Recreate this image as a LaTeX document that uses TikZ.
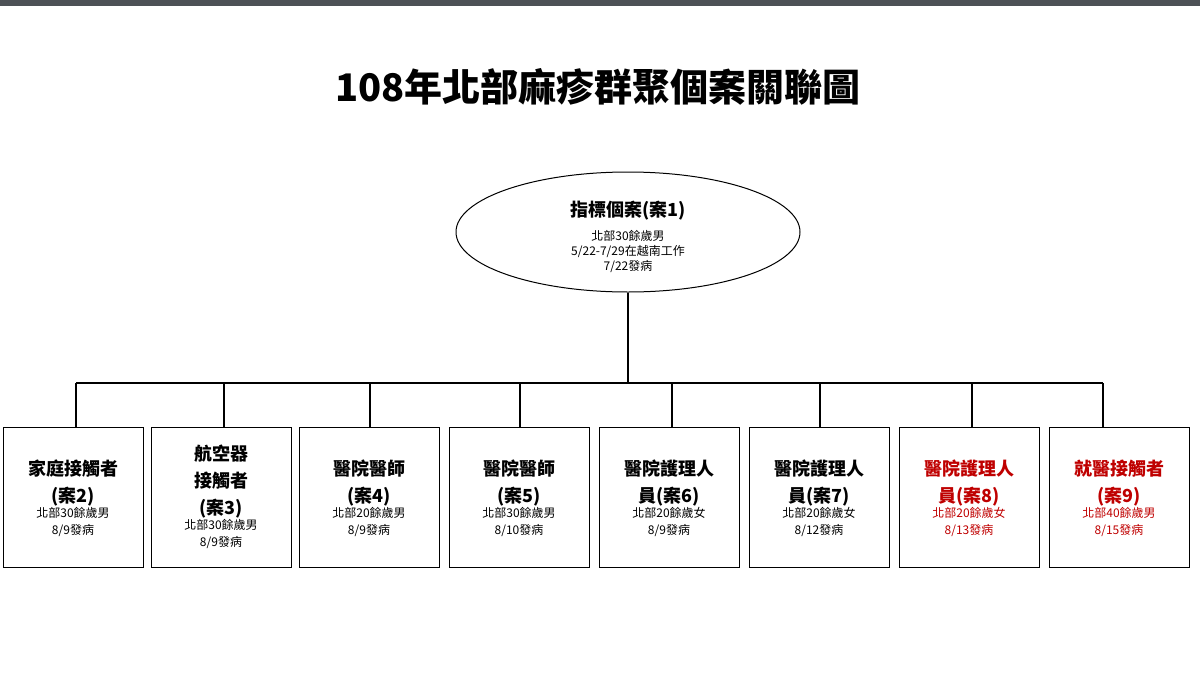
\documentclass[tikz,border=0pt]{standalone}
\usepackage{fontspec}
\setmainfont{Noto Sans CJK TC}
\usetikzlibrary{shapes.geometric}
\colorlet{red8}{red!75!black}
\begin{document}
\begin{tikzpicture}[x=1pt,y=-1pt,
  box/.style={draw,line width=1.2pt,minimum width=140pt,minimum height=140pt,anchor=north west},
  bigt/.style={inner sep=0pt,align=center,font=\fontsize{18}{27}\selectfont\bfseries,anchor=south},
  smallt/.style={inner sep=0pt,align=center,font=\fontsize{12}{17}\selectfont,anchor=north},
  ln/.style={line width=2pt}]
\useasboundingbox (0,0) rectangle (1200,683);
\fill[fill={rgb,255:red,77;green,81;blue,86}] (0,0) rectangle (1200,6);
\node[font=\fontsize{38}{42}\selectfont\bfseries] (title) at (598,87) {108年北部麻疹群聚個案關聯圖};
\node[draw,ellipse,line width=1pt,minimum width=344pt,minimum height=120pt] (root) at (628,232) {};
\node[font=\fontsize{18}{21}\selectfont\bfseries] (rt) at (628,211) {指標個案(案1)};
\node[align=center,font=\fontsize{12}{15}\selectfont] (rs) at (628,251) {北部30餘歲男\\5/22-7/29在越南工作\\7/22發病};
\coordinate (bl) at (76,383);
\coordinate (br) at (1103,383);
\coordinate (bm) at (628,383);
\draw[ln] (root.south) -- (bm);
\draw[ln] (bl) -- (br);
\foreach \i/\x/\dx/\yb/\c/\t/\s in {
 2/3/76/506/black/{家庭接觸者\\(案2)}/{北部30餘歲男\\8/9發病},
 3/151/224/518/black/{航空器\\接觸者\\(案3)}/{北部30餘歲男\\8/9發病},
 4/299/370/506/black/{醫院醫師\\(案4)}/{北部20餘歲男\\8/9發病},
 5/449/520/506/black/{醫院醫師\\(案5)}/{北部30餘歲男\\8/10發病},
 6/599/672/506/black/{醫院護理人\\員(案6)}/{北部20餘歲女\\8/9發病},
 7/749/820/506/black/{醫院護理人\\員(案7)}/{北部20餘歲女\\8/12發病},
 8/899/972/506/red8/{醫院護理人\\員(案8)}/{北部20餘歲女\\8/13發病},
 9/1049/1103/506/red8/{就醫接觸者\\(案9)}/{北部40餘歲男\\8/15發病}}{
  \node[box] (b\i) at (\x,427) {};
  \node[bigt,text=\c] (t\i) at (\x+70,\yb) {\t};
  \node[smallt,text=\c] (s\i) at (\x+70,\yb+1) {\s};
  \coordinate (d\i) at (\dx,383);
  \draw[ln] (d\i) -- (\dx,427);
}
\end{tikzpicture}
\end{document}
